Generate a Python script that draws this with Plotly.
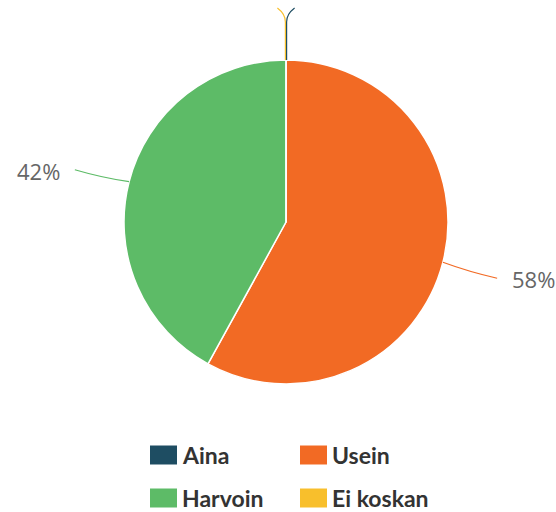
import math
import plotly.graph_objects as go

# Survey answers and their shares (%)
categories = ["Aina", "Usein", "Harvoin", "Ei koskan"]
shares = [0, 58, 42, 0]
colors = ["#1e4d62", "#f26a24", "#5dbb67", "#f8bf2c"]

W, H = 556, 512
CX, CY, R = 286, 222, 162  # pie centre and radius in pixels


def px(x):
    return x / W


def py(y):
    return 1 - y / H


fig = go.Figure(
    go.Pie(
        labels=categories,
        values=shares,
        sort=False,
        direction="clockwise",
        rotation=0,
        marker=dict(colors=colors, line=dict(color="white", width=1.5)),
        textinfo="none",
        hoverinfo="label+percent",
        showlegend=False,
        domain=dict(x=[px(CX - R), px(CX + R)], y=[py(CY + R), py(CY - R)]),
    )
)

shapes = []
annotations = []
total = sum(shares)
start = 0.0
for name, val, col in zip(categories, shares, colors):
    frac = val / total
    mid = (start + frac / 2) * 2 * math.pi
    start += frac
    dx, dy = math.sin(mid), -math.cos(mid)
    if val > 0:
        # connector running outward from the slice edge, then the label
        x0, y0 = CX + R * dx, CY + R * dy
        x1, y1 = CX + (R + 28) * dx, CY + (R + 28) * dy + 3
        x2, y2 = CX + (R + 56) * dx, CY + (R + 56) * dy + 2
        shapes.append(dict(
            type="path", xref="paper", yref="paper",
            path=f"M {px(x0)},{py(y0)} Q {px(x1)},{py(y1)} {px(x2)},{py(y2)}",
            line=dict(color=col, width=1.2),
        ))
        side = 1 if dx > 0 else -1
        annotations.append(dict(
            x=px(x2 + side * 13), y=py(y2 + 1), xref="paper", yref="paper",
            text=f"{round(val)}%", showarrow=False,
            xanchor="left" if side > 0 else "right", yanchor="middle",
            font=dict(family="Open Sans", size=22, color="#666666"),
        ))
    else:
        # zero-sized slices: connector goes straight up from the top of the pie
        side = 1 if name == categories[0] else -1
        x0, y0 = CX + side * 0.6, CY - R
        shapes.append(dict(
            type="path", xref="paper", yref="paper",
            path=(f"M {px(x0)},{py(y0)} L {px(x0)},{py(22)} "
                  f"Q {px(x0)},{py(14)} {px(x0 + side * 8)},{py(8)}"),
            line=dict(color=col, width=1.2),
        ))

# Two-column legend below the pie
legend_cols = [150, 300]
legend_rows = [455, 498]
for i, (name, col) in enumerate(zip(categories, colors)):
    lx = legend_cols[i % 2]
    ly = legend_rows[i // 2]
    shapes.append(dict(
        type="rect", xref="paper", yref="paper",
        x0=px(lx), x1=px(lx + 27), y0=py(ly + 9.5), y1=py(ly - 9.5),
        fillcolor=col, line=dict(width=0),
    ))
    annotations.append(dict(
        x=px(lx + 30), y=py(ly), xref="paper", yref="paper",
        text=f"<b>{name}</b>", showarrow=False,
        xanchor="left", yanchor="middle",
        font=dict(family="Lato", size=23, color="#333333"),
    ))

fig.update_layout(
    width=W, height=H,
    margin=dict(l=0, r=0, t=0, b=0),
    paper_bgcolor="white",
    plot_bgcolor="white",
    shapes=shapes,
    annotations=annotations,
)

fig.write_html("out.html")
